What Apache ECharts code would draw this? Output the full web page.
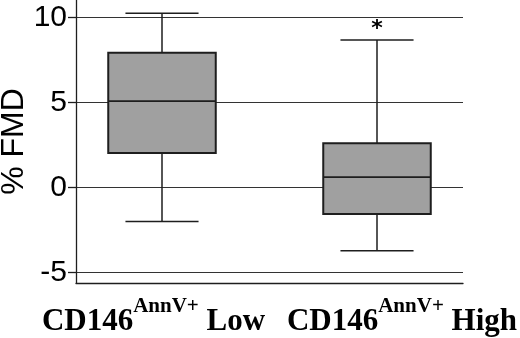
<!DOCTYPE html>
<html>
<head>
<meta charset="utf-8">
<script src="https://cdn.jsdelivr.net/npm/echarts@6/dist/echarts.min.js"></script>
<style>html,body{margin:0;padding:0;background:#fff}#c{width:520px;height:338px}</style>
</head>
<body>
<div id="c"></div>
<script>
// ---- data ----
const groupMarker = 'CD146';
const groupSuperscript = 'AnnV+';
const groupNames = ['Low', 'High'];
const positions = [1, 2];
const lowWhisker = [-2.0, -3.72];
const q1 = [2.03, -1.56];
const median = [5.08, 0.61];
const q3 = [7.93, 2.6];
const highWhisker = [10.25, 8.68];
const significance = ['', '*'];
const yTicks = [-5, 0, 5, 10];
const yName = '% FMD';

const data = positions.map((p, i) => [p, lowWhisker[i], q1[i], median[i], q3[i], highWhisker[i]]);

const chart = echarts.init(document.getElementById('c'), null, {renderer: 'canvas'});

const LINE = '#1e1e1e';
function renderItem(params, api) {
  const x = api.value(0);
  const lo = api.coord([x, api.value(1)]);
  const a = api.coord([x, api.value(2)]);
  const m = api.coord([x, api.value(3)]);
  const b = api.coord([x, api.value(4)]);
  const hi = api.coord([x, api.value(5)]);
  const boxHalf = api.size([0.5, 0])[0] / 2;
  const capHalf = api.size([0.34, 0])[0] / 2;
  const cx = lo[0];
  const ls = {stroke: LINE, lineWidth: 1.5};
  const children = [
    {type: 'line', shape: {x1: cx, y1: hi[1], x2: cx, y2: b[1]}, style: ls},
    {type: 'line', shape: {x1: cx, y1: a[1], x2: cx, y2: lo[1]}, style: ls},
    {type: 'line', shape: {x1: cx - capHalf, y1: hi[1], x2: cx + capHalf, y2: hi[1]}, style: ls},
    {type: 'line', shape: {x1: cx - capHalf, y1: lo[1], x2: cx + capHalf, y2: lo[1]}, style: ls},
    {type: 'rect', shape: {x: cx - boxHalf, y: b[1], width: boxHalf * 2, height: a[1] - b[1]},
      style: {fill: '#a0a0a0', stroke: LINE, lineWidth: 2}},
    {type: 'line', shape: {x1: cx - boxHalf, y1: m[1], x2: cx + boxHalf, y2: m[1]}, style: {stroke: LINE, lineWidth: 1.8}}
  ];
  const sig = significance[params.dataIndex];
  if (sig) {
    children.push({type: 'text', x: cx, y: hi[1] - 11,
      style: {text: sig, fill: '#000', font: 'bold 22px "DejaVu Sans"', align: 'center', verticalAlign: 'middle'}});
  }
  return {type: 'group', children: children};
}

const serif = '"Liberation Serif", "Times New Roman", serif';
const richStyles = {
  m: {fontFamily: serif, fontWeight: 'bold', fontSize: 31, color: '#000', lineHeight: 44, verticalAlign: 'bottom'},
  s: {fontFamily: serif, fontWeight: 'bold', fontSize: 21, color: '#000', lineHeight: 22, verticalAlign: 'top', padding: [3, 0, 0, 0]},
  p0: {width: 17, lineHeight: 44},
  p1: {width: 50, lineHeight: 44}
};
function makeXAxis(i, showLine) {
  return {
    type: 'value', min: 0.6, max: 2.4, gridIndex: 0, position: 'bottom',
    axisLine: {show: showLine, onZero: false, lineStyle: {color: LINE, width: 1.3}},
    axisTick: {show: false, customValues: [positions[i]]},
    splitLine: {show: false},
    axisLabel: {
      customValues: [positions[i]],
      margin: 10,
      showMinLabel: true, showMaxLabel: true, hideOverlap: false,
      formatter: function () {
        const body = '{m|' + groupMarker + '}{s|' + groupSuperscript + '}{m| ' + groupNames[i] + '}';
        return i === 0 ? body + '{p0|}' : '{p1|}' + body;
      },
      rich: richStyles
    }
  };
}

chart.setOption({
  animation: false,
  grid: {left: 76, right: 57, top: 0, bottom: 55, containLabel: false, outerBoundsMode: 'none'},
  xAxis: [makeXAxis(0, true), makeXAxis(1, false)],
  yAxis: {
    type: 'value', min: -5.625, max: 11.03,
    name: yName, nameLocation: 'middle', nameRotate: 90, nameGap: 46, nameMoveOverlap: false,
    nameTextStyle: {fontFamily: '"Liberation Sans", Arial, sans-serif', fontSize: 32, color: '#000'},
    axisLine: {show: true, onZero: false, lineStyle: {color: LINE, width: 1.3}},
    axisTick: {show: true, inside: false, length: 8, customValues: yTicks, lineStyle: {color: LINE, width: 1.3}},
    axisLabel: {customValues: yTicks, margin: 9, fontFamily: '"Liberation Sans", Arial, sans-serif', fontSize: 30, color: '#000'},
    splitLine: {show: true, lineStyle: {color: '#333', width: 1.2}}
  },
  series: [{
    type: 'custom',
    renderItem: renderItem,
    xAxisIndex: 0,
    encode: {x: 0, y: [1, 2, 3, 4, 5]},
    data: data,
    z: 5
  }]
});
</script>
</body>
</html>
